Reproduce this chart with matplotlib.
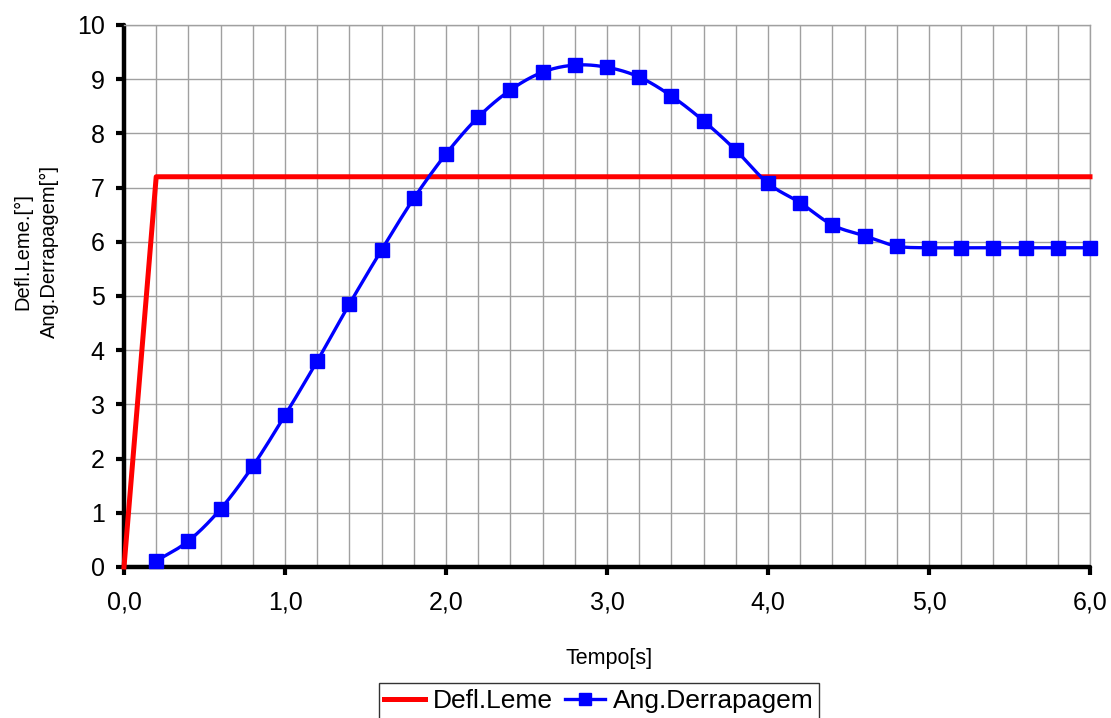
import numpy as np
import matplotlib
matplotlib.use("Agg")
import matplotlib.pyplot as plt
from matplotlib.ticker import MultipleLocator, FuncFormatter

plt.rcParams['font.family'] = ['Liberation Sans', 'DejaVu Sans']

# Rudder deflection step and sideslip angle response
tempo = [0.0, 0.2, 6.0]
defl_leme = [0.0, 7.2, 7.2]

tempo_ang = [0.2, 0.4, 0.6, 0.8, 1.0, 1.2, 1.4, 1.6, 1.8, 2.0, 2.2, 2.4, 2.6, 2.8,
             3.0, 3.2, 3.4, 3.6, 3.8, 4.0, 4.2, 4.4, 4.6, 4.8, 5.0, 5.2, 5.4,
             5.6, 5.8, 6.0]
ang_derrapagem = [0.11, 0.48, 1.07, 1.86, 2.80, 3.80, 4.85, 5.85, 6.80, 7.62,
                  8.30, 8.80, 9.13, 9.26, 9.22, 9.04, 8.69, 8.23, 7.69, 7.08,
                  6.72, 6.31, 6.11, 5.92, 5.89, 5.89, 5.89, 5.89, 5.89, 5.89]


def smooth(x, y, n=12):
    """Catmull-Rom curve through the points (smoothed line)."""
    x = np.asarray(x, float)
    y = np.asarray(y, float)
    px = np.concatenate([[2 * x[0] - x[1]], x, [2 * x[-1] - x[-2]]])
    py = np.concatenate([[2 * y[0] - y[1]], y, [2 * y[-1] - y[-2]]])
    xs, ys = [], []
    t = np.linspace(0, 1, n, endpoint=False)
    for i in range(1, len(px) - 2):
        for arr, out in ((px, xs), (py, ys)):
            p0, p1, p2, p3 = arr[i - 1], arr[i], arr[i + 1], arr[i + 2]
            out.extend(0.5 * ((2 * p1) + (-p0 + p2) * t
                              + (2 * p0 - 5 * p1 + 4 * p2 - p3) * t ** 2
                              + (-p0 + 3 * p1 - 3 * p2 + p3) * t ** 3))
    xs.append(x[-1])
    ys.append(y[-1])
    return np.array(xs), np.array(ys)


W, H = 1111, 718
fig = plt.figure(figsize=(W / 100, H / 100), dpi=100)
ax = fig.add_axes([124 / W, 1 - 567 / H, (1090 - 124) / W, (567 - 25) / H])

ax.set_xlim(0, 6.0)
ax.set_ylim(0, 10)

ax.xaxis.set_major_locator(MultipleLocator(1.0))
ax.xaxis.set_minor_locator(MultipleLocator(0.2))
ax.yaxis.set_major_locator(MultipleLocator(1))
ax.grid(True, which='both', axis='x', color='#a0a0a0', linewidth=1.0)
ax.grid(True, which='major', axis='y', color='#a0a0a0', linewidth=1.0)
ax.set_axisbelow(True)

ax.xaxis.set_major_formatter(FuncFormatter(lambda v, p: f"{v:.1f}".replace('.', ',')))
ax.tick_params(axis='both', which='major', direction='out', length=6, width=3,
               labelsize=18, colors='black')
ax.tick_params(axis='x', which='major', pad=11)
ax.tick_params(axis='y', which='major', pad=8)
ax.tick_params(axis='x', which='minor', length=0)

for side in ('left', 'bottom'):
    ax.spines[side].set_linewidth(3.2)
    ax.spines[side].set_color('black')
    ax.spines[side].set_capstyle('round')
for side in ('top', 'right'):
    ax.spines[side].set_linewidth(1.0)
    ax.spines[side].set_color('#a0a0a0')

l1, = ax.plot(tempo, defl_leme, color='#ff0000', linewidth=3.6, zorder=3,
              label='Defl.Leme', clip_on=False)
sx, sy = smooth(tempo_ang, ang_derrapagem)
ax.plot(sx, sy, color='#0000ff', linewidth=2.4, zorder=4, clip_on=False)
ax.plot(tempo_ang, ang_derrapagem, linestyle='none', marker='s', markersize=9.5,
        color='#0000ff', zorder=5, clip_on=False)
l2, = ax.plot([], [], color='#0000ff', linewidth=2.4, marker='s', markersize=9,
              label='Ang.Derrapagem')

ax.set_xlabel('Tempo[s]', fontsize=15.5)
ax.xaxis.set_label_coords((609 - 124) / (1090 - 124), (567 - 648) / (567 - 25))
ax.set_ylabel('Defl.Leme.[°]\nAng.Derrapagem[°]', fontsize=14.5, linespacing=1.5,
              va='center')
ax.yaxis.set_label_coords((36 - 124) / (1090 - 124), (567 - 252) / (567 - 25))

leg = fig.legend(handles=[l1, l2], loc='upper center',
                 bbox_to_anchor=(599 / W, 1 - 683 / H), ncol=2, fontsize=19,
                 frameon=True, fancybox=False, edgecolor='black',
                 handlelength=1.55, columnspacing=0.45, handletextpad=0.28,
                 borderpad=0.22, borderaxespad=0)
leg.get_frame().set_linewidth(1.0)

fig.savefig('out.png', dpi=100)
